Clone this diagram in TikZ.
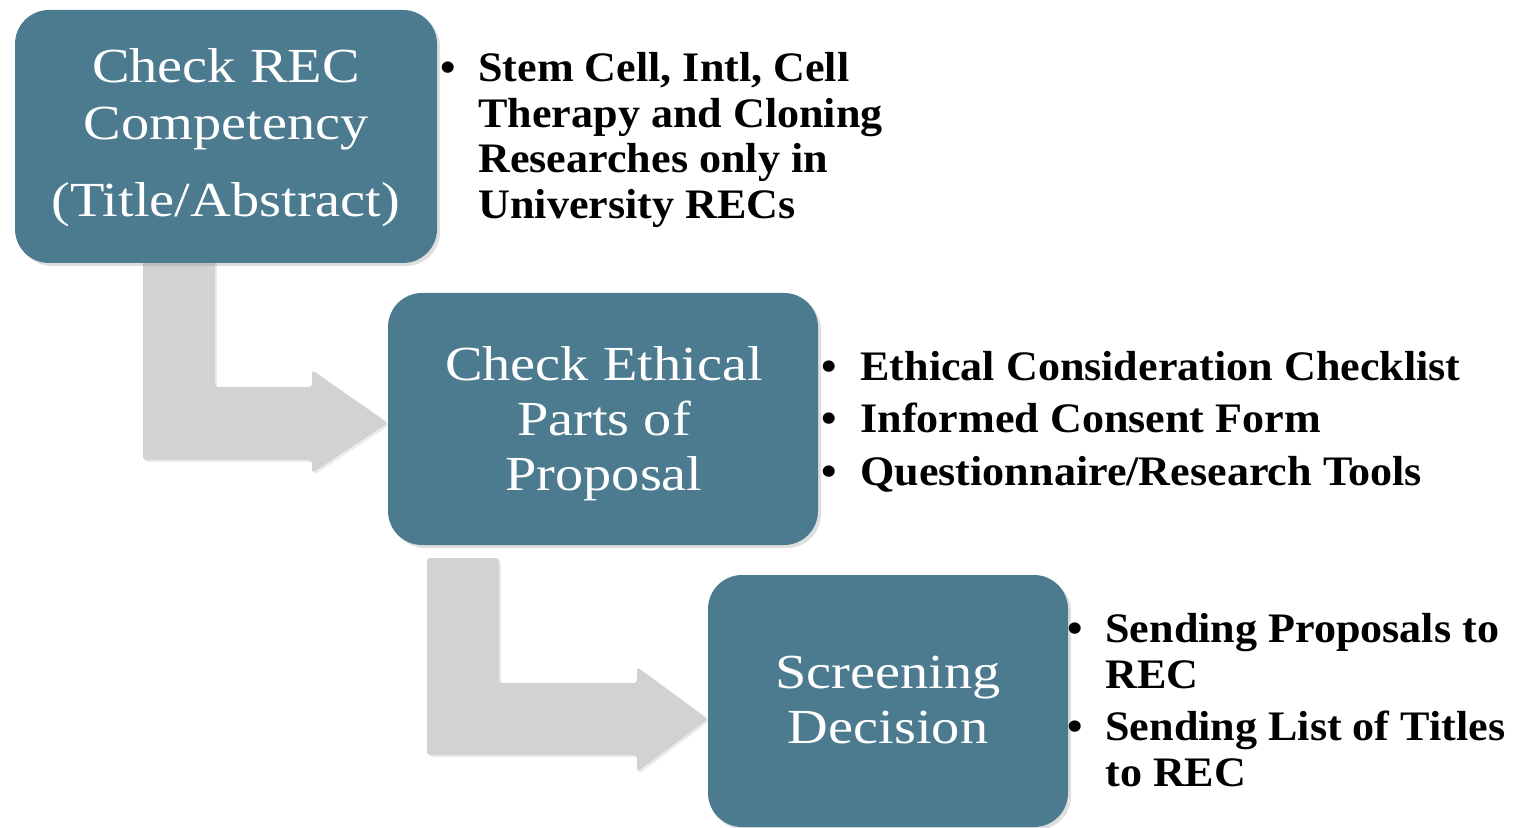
\documentclass[tikz,border=0pt]{standalone}
\usepackage{fontspec}
\setmainfont{Liberation Serif}
\newfontfamily\boxfont[FakeStretch=1.15]{Liberation Serif}
\newfontfamily\bulfont[FakeStretch=1.05]{Liberation Serif}
\usetikzlibrary{shadows}
\definecolor{boxblue}{RGB}{76,123,143}
\definecolor{arrowgray}{RGB}{208,210,212}
\tikzset{
  stepbox/.style={draw=none, fill=boxblue, rounded corners=17pt, inner sep=0pt,
    drop shadow={opacity=0.25, shadow xshift=1.5pt, shadow yshift=-1.5pt}},
  bentarrow/.style={fill=arrowgray, draw=none, rounded corners=1.5pt,
    drop shadow={opacity=0.15, shadow xshift=1pt, shadow yshift=-1pt}},
  boxtxt/.style={text=white, font=\boxfont\fontsize{24.5}{27}\selectfont, anchor=base, inner sep=0pt},
  bultxt/.style={text=black, font=\bulfont\bfseries\fontsize{21}{23}\selectfont, anchor=base west, inner sep=0pt},
  bulmark/.style={text=black, font=\bulfont\bfseries\fontsize{21}{23}\selectfont, anchor=base, inner sep=0pt}
}
\begin{document}
\begin{tikzpicture}[x=0.5pt,y=-0.5pt]
\useasboundingbox (0,0) rectangle (1518,828);
% bent arrows
\fill[bentarrow] (143,240) -- (215,240) -- (215,387) -- (312,387) -- (312,370) -- (388,423) -- (312,473) -- (312,460) -- (143,460) -- cycle;
\fill[bentarrow] (427,558) -- (499,558) -- (499,683) -- (637,683) -- (637,667) -- (708,719) -- (637,772) -- (637,755) -- (427,755) -- cycle;
% boxes
\node[stepbox, minimum width=211pt, minimum height=126.5pt] (b1) at (226,136.5) {};
\node[stepbox, minimum width=215pt, minimum height=126pt] (b2) at (603,419) {};
\node[stepbox, minimum width=180pt, minimum height=126pt] (b3) at (888,701) {};
% box texts
\node[boxtxt] (t11) at (226,83) {Check REC};
\node[boxtxt] (t12) at (226,140) {Competency};
\node[boxtxt] (t13) at (226,217) {(Title/Abstract)};
\node[boxtxt] (t21) at (604,380) {Check Ethical};
\node[boxtxt] (t22) at (604,435) {Parts of};
\node[boxtxt] (t23) at (604,490) {Proposal};
\node[boxtxt] (t31) at (888,688) {Screening};
\node[boxtxt] (t32) at (888,743) {Decision};
% bullets box 1
\node[bulmark] (m11) at (448,82) {•};
\node[bultxt] (l11) at (478,82) {Stem Cell, Intl, Cell};
\node[bultxt] (l12) at (478,128) {Therapy and Cloning};
\node[bultxt] (l13) at (478,173) {Researches only in};
\node[bultxt] (l14) at (478,219) {University RECs};
% bullets box 2
\node[bulmark] (m21) at (829,380) {•};
\node[bultxt] (l21) at (860,380) {Ethical Consideration Checklist};
\node[bulmark] (m22) at (829,432) {•};
\node[bultxt] (l22) at (860,432) {Informed Consent Form};
\node[bulmark] (m23) at (829,485) {•};
\node[bultxt] (l23) at (860,485) {Questionnaire/Research Tools};
% bullets box 3
\node[bulmark] (m31) at (1075,642) {•};
\node[bultxt] (l31) at (1105,642) {Sending Proposals to};
\node[bultxt] (l32) at (1105,688) {REC};
\node[bulmark] (m32) at (1075,740) {•};
\node[bultxt] (l33) at (1105,740) {Sending List of Titles};
\node[bultxt] (l34) at (1105,786) {to REC};
\end{tikzpicture}
\end{document}
